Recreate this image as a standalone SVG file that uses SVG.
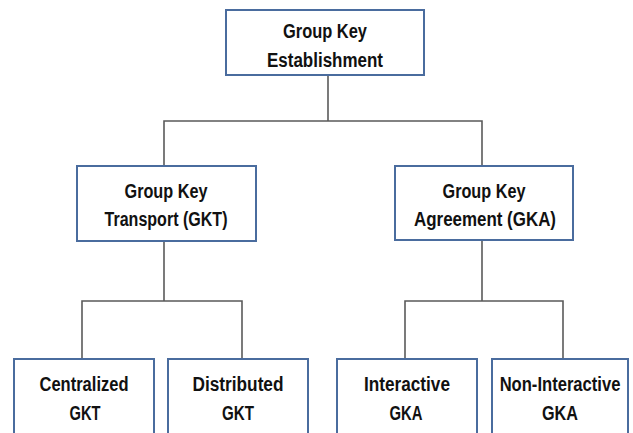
<svg xmlns="http://www.w3.org/2000/svg" width="633" height="433" viewBox="0 0 633 433">
<style>
.box{fill:#ffffff;stroke:#4a6c9e;stroke-width:2}
.t{font-family:"Liberation Sans",Arial,sans-serif;font-weight:bold;font-size:20px;fill:#111111;text-anchor:middle}
.c{fill:none;stroke:#5a5a5a;stroke-width:1.6}
</style>
<rect width="633" height="433" fill="#ffffff"/>
<g id="connectors">
<path class="c" d="M328 75V121M164 166V121H482V166"/>
<path class="c" d="M164 241V301M82 359V301H242V359"/>
<path class="c" d="M482 240V301M405 359V301H563V359"/>
</g>
<g id="n-gke">
<rect class="box" x="226" y="10" width="198" height="65"/>
<text class="t" x="325" y="38" textLength="84" lengthAdjust="spacingAndGlyphs">Group Key</text>
<text class="t" x="325" y="67" textLength="116" lengthAdjust="spacingAndGlyphs">Establishment</text>
</g>
<g id="n-gkt">
<rect class="box" x="77" y="166" width="179" height="75"/>
<text class="t" x="166" y="198" textLength="83" lengthAdjust="spacingAndGlyphs">Group Key</text>
<text class="t" x="166" y="226" textLength="123" lengthAdjust="spacingAndGlyphs">Transport (GKT)</text>
</g>
<g id="n-gka">
<rect class="box" x="395" y="166" width="178" height="74"/>
<text class="t" x="484" y="198" textLength="83" lengthAdjust="spacingAndGlyphs">Group Key</text>
<text class="t" x="485" y="226" textLength="142" lengthAdjust="spacingAndGlyphs">Agreement (GKA)</text>
</g>
<g id="n-centralized">
<rect class="box" x="14" y="359" width="140" height="90"/>
<text class="t" x="84" y="391" textLength="89" lengthAdjust="spacingAndGlyphs">Centralized</text>
<text class="t" x="85" y="420" textLength="31" lengthAdjust="spacingAndGlyphs">GKT</text>
</g>
<g id="n-distributed">
<rect class="box" x="168" y="359" width="140" height="90"/>
<text class="t" x="238" y="391" textLength="91" lengthAdjust="spacingAndGlyphs">Distributed</text>
<text class="t" x="238" y="420" textLength="32" lengthAdjust="spacingAndGlyphs">GKT</text>
</g>
<g id="n-interactive">
<rect class="box" x="337" y="359" width="140" height="90"/>
<text class="t" x="407" y="391" textLength="86" lengthAdjust="spacingAndGlyphs">Interactive</text>
<text class="t" x="406" y="420" textLength="33" lengthAdjust="spacingAndGlyphs">GKA</text>
</g>
<g id="n-noninteractive">
<rect class="box" x="492" y="359" width="136" height="90"/>
<text class="t" transform="translate(560 391) scale(0.83 1)">Non-Interactive</text>
<text class="t" x="560" y="420" textLength="36" lengthAdjust="spacingAndGlyphs">GKA</text>
</g>
</svg>
